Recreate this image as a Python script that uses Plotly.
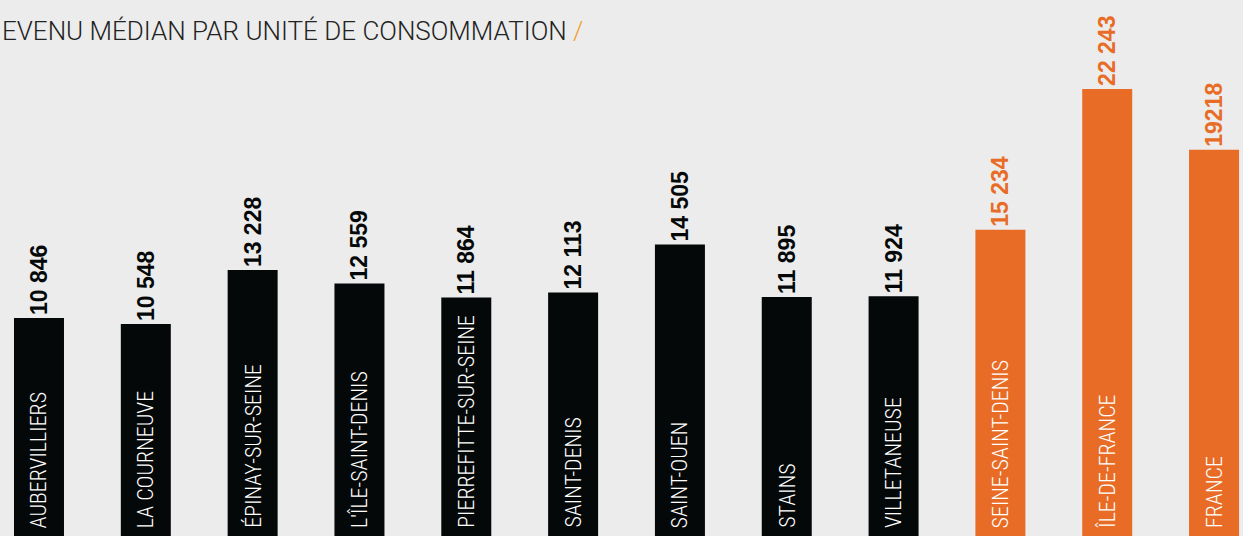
import plotly.graph_objects as go

categories = ["AUBERVILLIERS", "LA COURNEUVE", "ÉPINAY-SUR-SEINE", "L'ÎLE-SAINT-DENIS",
              "PIERREFITTE-SUR-SEINE", "SAINT-DENIS", "SAINT-OUEN", "STAINS",
              "VILLETANEUSE", "SEINE-SAINT-DENIS", "ÎLE-DE-FRANCE", "FRANCE"]
values = [10846, 10548, 13228, 12559, 11864, 12113, 14505, 11895, 11924, 15234, 22243, 19218]
value_labels = ["10 846", "10 548", "13 228", "12 559", "11 864", "12 113", "14 505",
                "11 895", "11 924", "15 234", "22 243", "19218"]
groups = ["commune"] * 9 + ["reference"] * 3

BLACK = "#050808"
ORANGE = "#E86C25"
BG = "#ECECEC"

colors = [BLACK if g == "commune" else ORANGE for g in groups]
xs = list(range(len(categories)))

fig = go.Figure()
fig.add_trace(go.Bar(
    x=xs, y=values, width=0.468,
    marker=dict(color=colors, line=dict(width=0)),
    text=value_labels, textposition="outside", textangle=-90,
    constraintext="none",
    textfont=dict(family="Liberation Sans", size=23, color=colors, weight="bold"),
    cliponaxis=False, hoverinfo="skip",
))

for x, c in zip(xs, categories):
    fig.add_annotation(
        x=x, y=0, xref="x", yref="y", text=c, textangle=-90,
        showarrow=False, xanchor="center", yanchor="bottom", yshift=6,
        font=dict(family="Roboto Condensed, Arial Narrow, Roboto", size=22, color="white", weight=300),
    )

fig.add_annotation(
    x=0, y=1, xref="paper", yref="paper", xanchor="left", yanchor="top",
    xshift=0, yshift=-14,
    text="EVENU MÉDIAN PAR UNITÉ DE CONSOMMATION <span style='color:#F2A030'>/</span>",
    showarrow=False,
    font=dict(family="Roboto", size=26, color="#222222", weight=300),
)

fig.update_layout(
    width=1243, height=536,
    margin=dict(l=0, r=0, t=0, b=0),
    paper_bgcolor=BG, plot_bgcolor=BG,
    showlegend=False,
    xaxis=dict(range=[-0.365, 11.271], visible=False),
    yaxis=dict(range=[0, 26667], visible=False),
)

fig.write_html("out.html", config={"displayModeBar": False})

with open("out.html", encoding="utf-8") as f:
    html = f.read()
html = html.replace("<body>", "<body style=\"margin:0;padding:0;overflow:hidden\">", 1)
with open("out.html", "w", encoding="utf-8") as f:
    f.write(html)
